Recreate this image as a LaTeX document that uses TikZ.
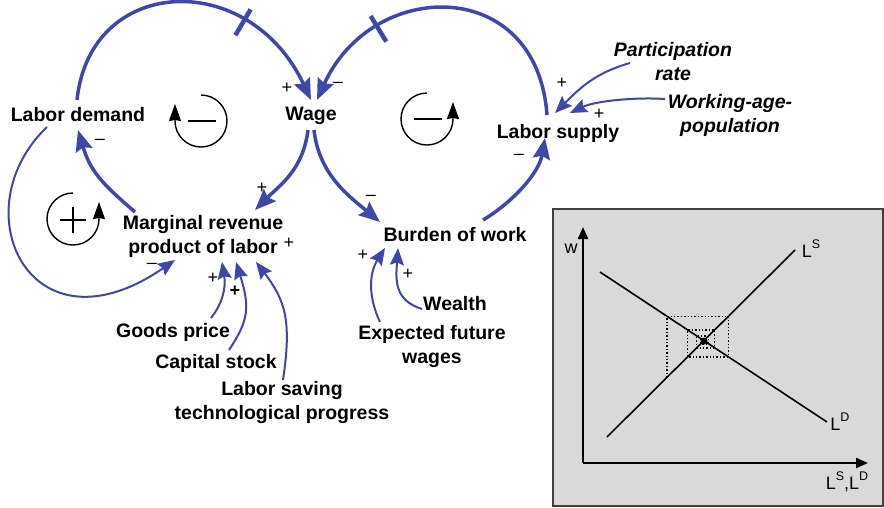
\documentclass[tikz,border=0pt]{standalone}
\usepackage{fontspec}
\setmainfont{Liberation Sans}
\usetikzlibrary{arrows.meta,decorations.markings}
\definecolor{cldblue}{RGB}{62,72,170}
\definecolor{panelgray}{RGB}{217,217,217}
\newcommand{\mktsup}[1]{\raisebox{0.5em}{\fontsize{12.5}{14}\selectfont #1}}

\begin{document}
\begin{tikzpicture}[
x=1pt, y=1pt,
var/.style={
font=\fontsize{19.5}{24}\selectfont\bfseries,
align=center,
inner sep=1pt
},
ext/.style={var, font=\fontsize{19.5}{24}\selectfont\bfseries\itshape},
sgn/.style={font=\fontsize{18}{20}\selectfont, inner sep=0pt},
axlbl/.style={font=\fontsize{18}{20}\selectfont, inner sep=0pt},
link/.style={draw=cldblue, line width=3.5pt, -{Stealth[length=21pt,width=17pt,inset=3pt]}},
inlink/.style={draw=cldblue, line width=2pt, -{Stealth[length=17pt,width=14pt,inset=2.5pt]}},
delaymark/.style={
postaction={decorate},
decoration={markings, mark=at position #1 with {\draw[-, cldblue, line width=4.5pt] (0,-15) -- (0,15);}}
},
loopsym/.style={line width=1.4pt, -{Stealth[length=17pt,width=12pt,inset=1pt]}},
axis/.style={line width=2.2pt, -{Stealth[length=12pt,width=10pt,inset=0pt]}}
]
\useasboundingbox (0,0) rectangle (884,-507);

% variables
\node[var] (ldem) at (78,-115) {Labor demand};
\node[var] (wage) at (311,-116) {Wage};
\node[var] (mrp) at (203,-236) {Marginal revenue\\product of labor};
\node[var] (burden) at (455,-235) {Burden of work};
\node[var] (lsup) at (558,-133) {Labor supply};
\node[ext] (part) at (673,-62) {Participation\\rate};
\node[ext] (wap) at (730,-115) {Working-age-\\population};
\node[var] (goods) at (173,-332) {Goods price};
\node[var] (capital) at (216,-363) {Capital stock};
\node[var] (tech) at (282,-402) {Labor saving\\technological progress};
\node[var] (wealth) at (455,-304) {Wealth};
\node[var] (expect) at (432,-346) {Expected future\\wages};

% main links
\draw[link, delaymark=0.68] ([shift={(-1,15)}]ldem.center) .. controls +(13,125) and +(-62,132) .. ([shift={(0,16)}]wage.center);
\draw[link, delaymark=0.71] ([shift={(-11,18)}]lsup.center) .. controls +(-10,140) and +(55,122) .. ([shift={(6,16)}]wage.center);
\draw[link] ([shift={(-3,-14)}]wage.center) .. controls +(-5,-40) and +(25,25) .. ([shift={(52,26)}]mrp.center);
\draw[link] ([shift={(3,-14)}]wage.center) .. controls +(5,-45) and +(-30,25) .. ([shift={(-75,13)}]burden.center);
\draw[link] ([shift={(28,15)}]burden.center) .. controls +(30,18) and +(-6,-35) .. ([shift={(-13,-5)}]lsup.center);
\draw[link] ([shift={(-68,24)}]mrp.center) .. controls +(-35,30) and +(12,-40) .. ([shift={(0,-15)}]ldem.center);

% inputs
\draw[inlink] ([shift={(-31,-12)}]ldem.center) .. controls +(-87,-83) and +(-145,-100) .. ([shift={(-28,-24)}]mrp.center);
\draw[inlink] ([shift={(38,14)}]goods.center) .. controls +(12,15) and +(4,-25) .. ([shift={(19,-26)}]mrp.center);
\draw[inlink] ([shift={(13,13)}]capital.center) .. controls +(20,30) and +(14,-45) .. ([shift={(33,-26)}]mrp.center);
\draw[inlink] ([shift={(1,22)}]tech.center) .. controls +(9,60) and +(29,-38) .. ([shift={(53,-26)}]mrp.center);
\draw[inlink] ([shift={(-52,24)}]expect.center) .. controls +(-14,30) and +(-14,-22) .. ([shift={(-70,-13)}]burden.center);
\draw[inlink] ([shift={(-33,-5)}]wealth.center) .. controls +(-29,9) and +(-2,-30) .. ([shift={(-57,-13)}]burden.center);
\draw[inlink] ([shift={(-43,-1)}]part.center) .. controls +(-35,-10) and +(25,25) .. ([shift={(-3,20)}]lsup.center);
\draw[inlink] ([shift={(-65,16)}]wap.center) .. controls +(-30,2) and +(25,12) .. ([shift={(12,20)}]lsup.center);

% polarities
\node[sgn] (s1) at (287,-88) {+};
\node[sgn] (s2) at (338,-85) {--};
\node[sgn] (s3) at (262,-188) {+};
\node[sgn] (s4) at (371,-198) {--};
\node[sgn] (s5) at (519,-157) {--};
\node[sgn] (s6) at (100,-142) {--};
\node[sgn] (s7) at (152,-266) {--};
\node[sgn] (s8) at (289,-243) {+};
\node[sgn] (s9) at (213,-278) {+};
\node[sgn, font=\fontsize{18}{20}\selectfont\bfseries] (s10) at (235,-291) {+};
\node[sgn] (s11) at (363,-255) {+};
\node[sgn] (s12) at (408,-274) {+};
\node[sgn] (s13) at (562,-83) {+};
\node[sgn] (s14) at (599,-114) {+};

% loop markers
\draw[loopsym] (201,-95) arc[start angle=90, end angle=-180, radius=26] -- ++(0,17);
\draw[line width=1.4pt] (188,-121) -- (216,-121);
\draw[loopsym] (427,-93) arc[start angle=90, end angle=360, radius=26] -- ++(0,17);
\draw[line width=1.4pt] (414,-119) -- (442,-119);
\draw[loopsym] (73,-193) arc[start angle=90, end angle=360, radius=26] -- ++(0,17);
\draw[line width=1.4pt] (60,-220) -- (86,-220);
\draw[line width=1.4pt] (73,-207) -- (73,-233);

% labor market panel
\filldraw[fill=panelgray, draw=black!75, line width=1.5pt] (553,-209) rectangle (883,-506);
\draw[axis] (583,-463) -- (583,-227);
\draw[axis] (583,-463) -- (868,-463);
\draw[line width=1.6pt] (607,-437) -- (795,-250);
\draw[line width=1.6pt] (600,-272) -- (827,-422);
% cobweb
\draw[dotted, line width=1.4pt] (667,-377.3) -- (667,-316.3) -- (728.3,-316.3) -- (728.3,-356.8)
-- (687.6,-356.8) -- (687.6,-329.9) -- (714.6,-329.9) -- (714.6,-347.8) -- (696.7,-347.8)
-- (696.7,-335.9) -- (708.6,-335.9) -- (708.6,-343.8) -- (700.7,-343.8) -- (700.7,-338.5) -- (705.9,-338.5);
\fill (704,-341) circle[radius=3.5];
\node[axlbl] (wlbl) at (571,-249) {w};
\node[axlbl] (lslbl) at (811,-249) {L\mktsup{S}};
\node[axlbl] (ldlbl) at (840,-422) {L\mktsup{D}};
\node[axlbl] (xlbl) at (847,-482) {L\mktsup{S},L\mktsup{D}};

\end{tikzpicture}
\end{document}
